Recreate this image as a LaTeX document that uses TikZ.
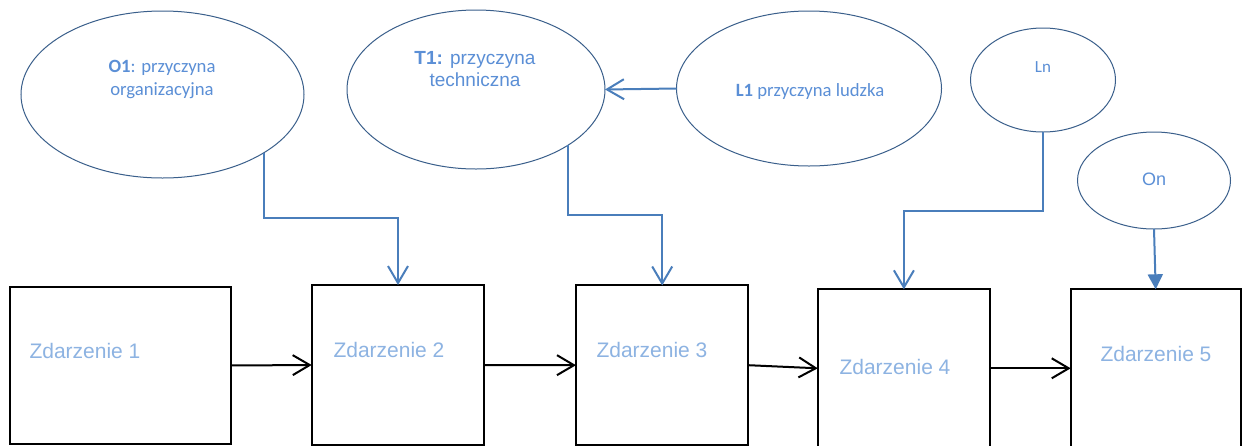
\documentclass[tikz,border=0pt]{standalone}
\usepackage{fontspec}
\setmainfont{Liberation Sans}
\newfontfamily\calib{Carlito}
\usetikzlibrary{arrows.meta,shapes.geometric}
\definecolor{elline}{HTML}{3A5F8B}
\definecolor{conn}{HTML}{4A7EBB}
\definecolor{eltext}{HTML}{5B8FD6}
\definecolor{boxtext}{HTML}{8DB3E2}
\tikzset{
  cause/.style={ellipse, draw=elline, line width=1pt, inner sep=0pt, outer sep=0pt, fill=white},
  eventbox/.style={rectangle, draw=black, line width=2pt, inner sep=0pt, outer sep=0pt},
  causetxt/.style={text=eltext, align=center, anchor=base, inner sep=0pt},
  eventtxt/.style={text=boxtext, anchor=base, inner sep=0pt, font=\fontsize{21}{25}\selectfont},
  flow/.style={draw=black, line width=2pt, -{Straight Barb[length=17pt,width=20pt]}},
  link/.style={draw=conn, line width=2pt, -{Straight Barb[length=17pt,width=20pt]}},
  solidlink/.style={draw=conn, line width=2pt, -{Triangle[length=15pt,width=15pt]}}
}
\begin{document}
\begin{tikzpicture}[x=1pt,y=-1pt]
\path[use as bounding box, clip] (0,0) rectangle (1242,445);
\fill[white] (0,0) rectangle (1242,445);

% causes
\node[cause, minimum width=283pt, minimum height=167pt] (o1) at (162.5,94.5) {};
\node[cause, minimum width=258pt, minimum height=159pt] (t1) at (476,89.5) {};
\node[cause, minimum width=265pt, minimum height=155pt] (l1) at (809,88.5) {};
\node[cause, minimum width=145pt, minimum height=104pt] (ln) at (1043,80) {};
\node[cause, minimum width=153pt, minimum height=97pt] (on) at (1154,180.5) {};

\node[causetxt, font=\calib\fontsize{18.7}{22.3}\selectfont] (o1t) at (162,95) {\textbf{O1}: przyczyna\\organizacyjna};
\node[causetxt, font=\fontsize{19}{21.7}\selectfont] (t1t) at (475,86) {\textbf{T1:} przyczyna\\techniczna};
\node[causetxt, font=\calib\fontsize{18.7}{22}\selectfont] (l1t) at (810,96) {\textbf{L1} przyczyna ludzka};
\node[causetxt, font=\calib\fontsize{17}{20}\selectfont] (lnt) at (1043,72.3) {Ln};
\node[causetxt, font=\fontsize{18}{21}\selectfont] (ont) at (1154,185) {On};

% events
\node[eventbox, minimum width=221pt, minimum height=157pt] (b1) at (120,365.5) {};
\node[eventbox, minimum width=172.6pt, minimum height=160pt] (b2) at (398,365) {};
\node[eventbox, minimum width=172.5pt, minimum height=159.5pt] (b3) at (662.2,365.2) {};
\node[eventbox, minimum width=172.3pt, minimum height=158pt] (b4) at (903.9,368.3) {};
\node[eventbox, minimum width=170pt, minimum height=158pt] (b5) at (1155.7,368.3) {};

\node[eventtxt] (b1t) at (85,358.3) {Zdarzenie 1};
\node[eventtxt] (b2t) at (389,357.5) {Zdarzenie 2};
\node[eventtxt] (b3t) at (652,357.3) {Zdarzenie 3};
\node[eventtxt] (b4t) at (895,374.5) {Zdarzenie 4};
\node[eventtxt] (b5t) at (1156,361) {Zdarzenie 5};

% flow between events
\draw[flow] (b1.east) -- (b2.west);
\draw[flow] (b2.east) -- (b3.west);
\draw[flow] (b3.east) -- (b4.west);
\draw[flow] (b4.east) -- (b5.west);

% cause links
\draw[link] (o1.-30.8) -- ++(0,65) -| (b2.north);
\draw[link] (t1.-31.9) -- ++(0,70) -| (b3.north);
\draw[link] (l1.west) -- (t1.east);
\draw[link] (ln.south) -- ++(0,78.7) -| (b4.north);
\draw[solidlink] (on.south) -- (b5.north);
\end{tikzpicture}
\end{document}
